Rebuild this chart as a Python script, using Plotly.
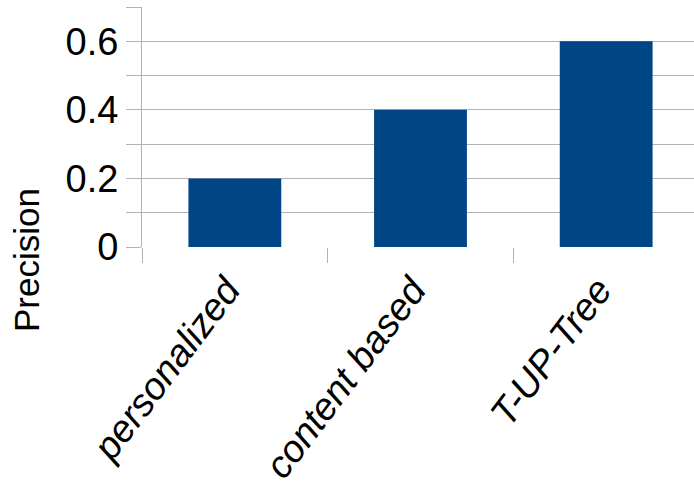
import plotly.graph_objects as go

categories = ["personalized", "content based", "T-UP-Tree"]
precision = [0.2, 0.4, 0.6]
ytick_vals = [0, 0.1, 0.2, 0.3, 0.4, 0.5, 0.6, 0.7]
ytick_text = ["0", "", "0.2", "", "0.4", "", "0.6", ""]

W, H = 694, 482
L, R, T, B = 142, 0, 7, 235

fig = go.Figure()
fig.add_trace(go.Bar(
    x=categories, y=precision,
    marker=dict(color="#004586", line=dict(width=0)),
    width=0.5,
))

fig.update_layout(
    width=W, height=H,
    margin=dict(l=L, r=R, t=T, b=B, autoexpand=False),
    paper_bgcolor="white", plot_bgcolor="white",
    showlegend=False,
    font=dict(family="Liberation Sans, Arial, sans-serif", color="#000000"),
    annotations=[dict(
        text="Precision", textangle=-90,
        xref="paper", yref="paper",
        x=(26 - L) / (W - L - R), y=(H - B - 260) / (H - T - B),
        xanchor="center", yanchor="middle", showarrow=False,
        font=dict(size=35, family="Liberation Sans, Arial, sans-serif", color="#000000"),
    )],
)

fig.update_xaxes(
    type="category",
    range=[-0.5, 2.473],
    showgrid=False,
    showline=False,
    ticks="outside", tickson="boundaries", ticklen=15, tickwidth=1, tickcolor="#b3b3b3",
    tickangle=-53,
    ticklabelstandoff=12, ticklabelshift=-8,
    tickfont=dict(size=38, family="Liberation Sans, Arial, sans-serif", style="italic", color="#000000"),
    automargin=False,
    zeroline=False,
)

fig.update_yaxes(
    range=[0, 0.7],
    tickmode="array", tickvals=ytick_vals, ticktext=ytick_text,
    showgrid=True, gridcolor="#b3b3b3", gridwidth=1,
    showline=True, linecolor="#b3b3b3", linewidth=1,
    ticks="outside", ticklen=15, tickwidth=1, tickcolor="#b3b3b3",
    tickfont=dict(size=38, family="Liberation Sans Narrow, Arial Narrow, Liberation Sans, Arial, sans-serif", color="#000000"),
    zeroline=False,
    automargin=False,
)

fig.write_html("out.html")
